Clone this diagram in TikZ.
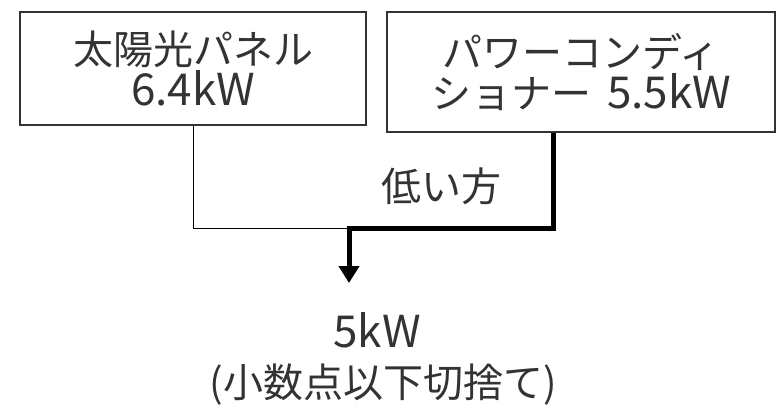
\documentclass[tikz,border=0pt]{standalone}
\usepackage{fontspec}
\setmainfont{Noto Sans CJK JP}
\usetikzlibrary{arrows.meta}
\newcommand{\numtext}[1]{{\fontsize{44}{41}\selectfont #1}}
\tikzset{
  unitbox/.style={draw, line width=1.2pt, inner sep=0pt, align=center, font=\fontsize{40}{41}\selectfont},
  label/.style={inner sep=0pt, font=\fontsize{40}{41}\selectfont},
}
\begin{document}
\begin{tikzpicture}[x=1pt, y=-1pt, color={rgb,255:red,51;green,51;blue,51}]
            \useasboundingbox (0,0) rectangle (776,407);
            \node[unitbox, minimum width=346pt, minimum height=113pt] (pv) at (193,68.5) {太陽光パネル\\\numtext{6.4kW}};
            \node[unitbox, minimum width=388pt, minimum height=120pt] (pcs) at (581,72) {パワーコンディ\\ショナー\hspace{0.4em}\numtext{5.5kW}};
            \coordinate (merge) at (349,228);
            \coordinate (tip) at (349,283);
            \draw[black, line width=1pt] (pv.south) |- (merge);
            \draw[black, line width=5pt, -{Triangle[length=17pt, width=20pt]}] ([xshift=-28pt]pcs.south) |- (merge) -- (tip);
            \node[label] (low) at (441,186) {低い方};
            \node[label] (result) at (377,330) {\numtext{5kW}};
            \node[label] (note) at (383,385) {(小数点以下切捨て)};
        \end{tikzpicture}
\end{document}
